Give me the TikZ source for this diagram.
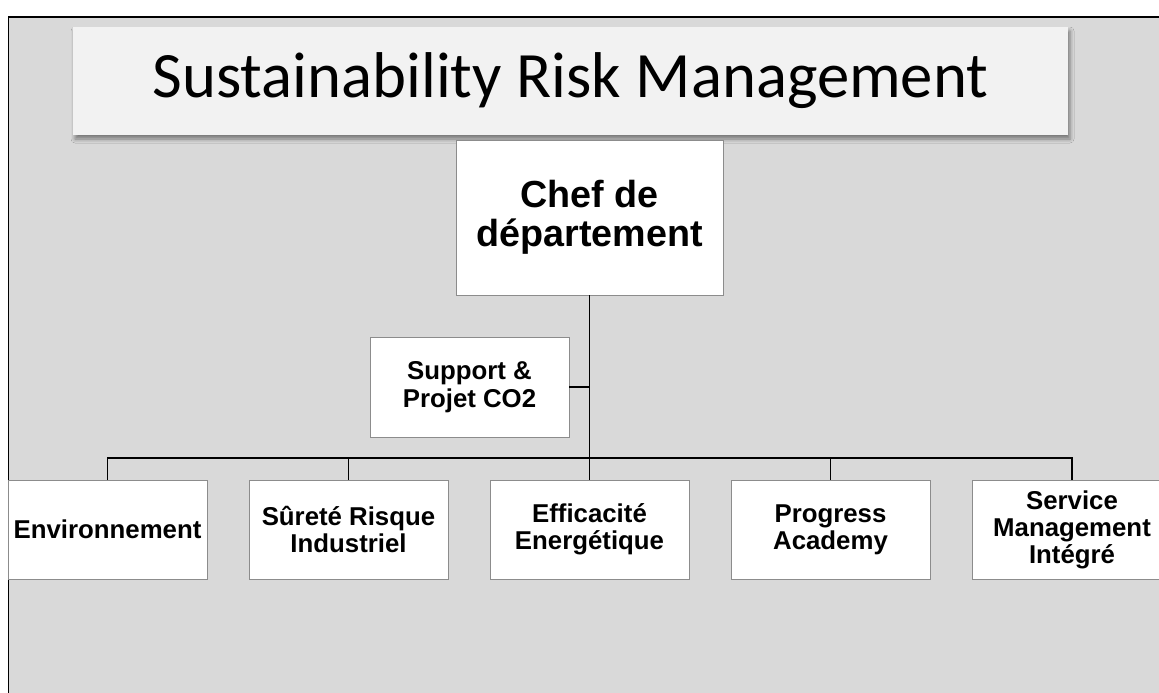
\documentclass[tikz,border=0pt]{standalone}
\usepackage{fontspec}
\setmainfont{Liberation Sans}
\newfontfamily\titlefont{Carlito}
\usetikzlibrary{shadows.blur}
\definecolor{bggray}{HTML}{D9D9D9}
\definecolor{boxgray}{HTML}{8C8C8C}
\definecolor{titlefill}{HTML}{F2F2F2}
\begin{document}
\begin{tikzpicture}[x=1pt,y=-1pt,
  orgbox/.style={draw=boxgray, fill=white, line width=0.9pt, minimum width=199pt,
    minimum height=99pt, align=center, inner sep=0pt,
    font=\fontsize{25.8}{27}\selectfont\bfseries},
  link/.style={line width=1.4pt, black},
  titlebox/.style={fill=titlefill, minimum width=995pt, minimum height=108pt, inner sep=0pt,
    blur shadow={shadow xshift=2pt, shadow yshift=-4pt, shadow blur radius=4pt, shadow opacity=45},
    font=\titlefont\fontsize{64.7}{72}\selectfont}]
\useasboundingbox (0,0) rectangle (1159,693);
\fill[white] (0,0) rectangle (1159,693);
\draw[fill=bggray, line width=1.6pt] (8.5,17) rectangle (1175,710);

\node[titlebox] (title) at (570.5,81) {Sustainability Risk Management};

\node[orgbox, minimum width=267pt, minimum height=155pt,
      font=\fontsize{37.7}{38.5}\selectfont\bfseries] (chef) at (589.5,217.5) {Chef de\\département};
\node[orgbox, minimum height=100pt, font=\fontsize{25.8}{28}\selectfont\bfseries] (sup) at (469.5,387) {Support \&\\Projet CO2};

\node[orgbox] (env) at (107.5,529.5) {Environnement};
\node[orgbox] (sur) at (348.5,529.5) {Sûreté Risque\\Industriel};
\node[orgbox] (eff) at (589.5,529.5) {Efficacité\\Energétique};
\node[orgbox] (pro) at (830.5,529.5) {Progress\\Academy};
\node[orgbox] (ser) at (1072,529.5) {Service\\Management\\Intégré};

\coordinate (bar) at (589.5,458);
\draw[link] (chef.south) -- (bar);
\draw[link] (sup.east) -- (sup.east -| chef.south);
\draw[link] (env.north) |- (bar);
\draw[link] (sur.north) |- (bar);
\draw[link] (eff.north) -- (bar);
\draw[link] (pro.north) |- (bar);
\draw[link] (ser.north) |- (bar);
\end{tikzpicture}
\end{document}
